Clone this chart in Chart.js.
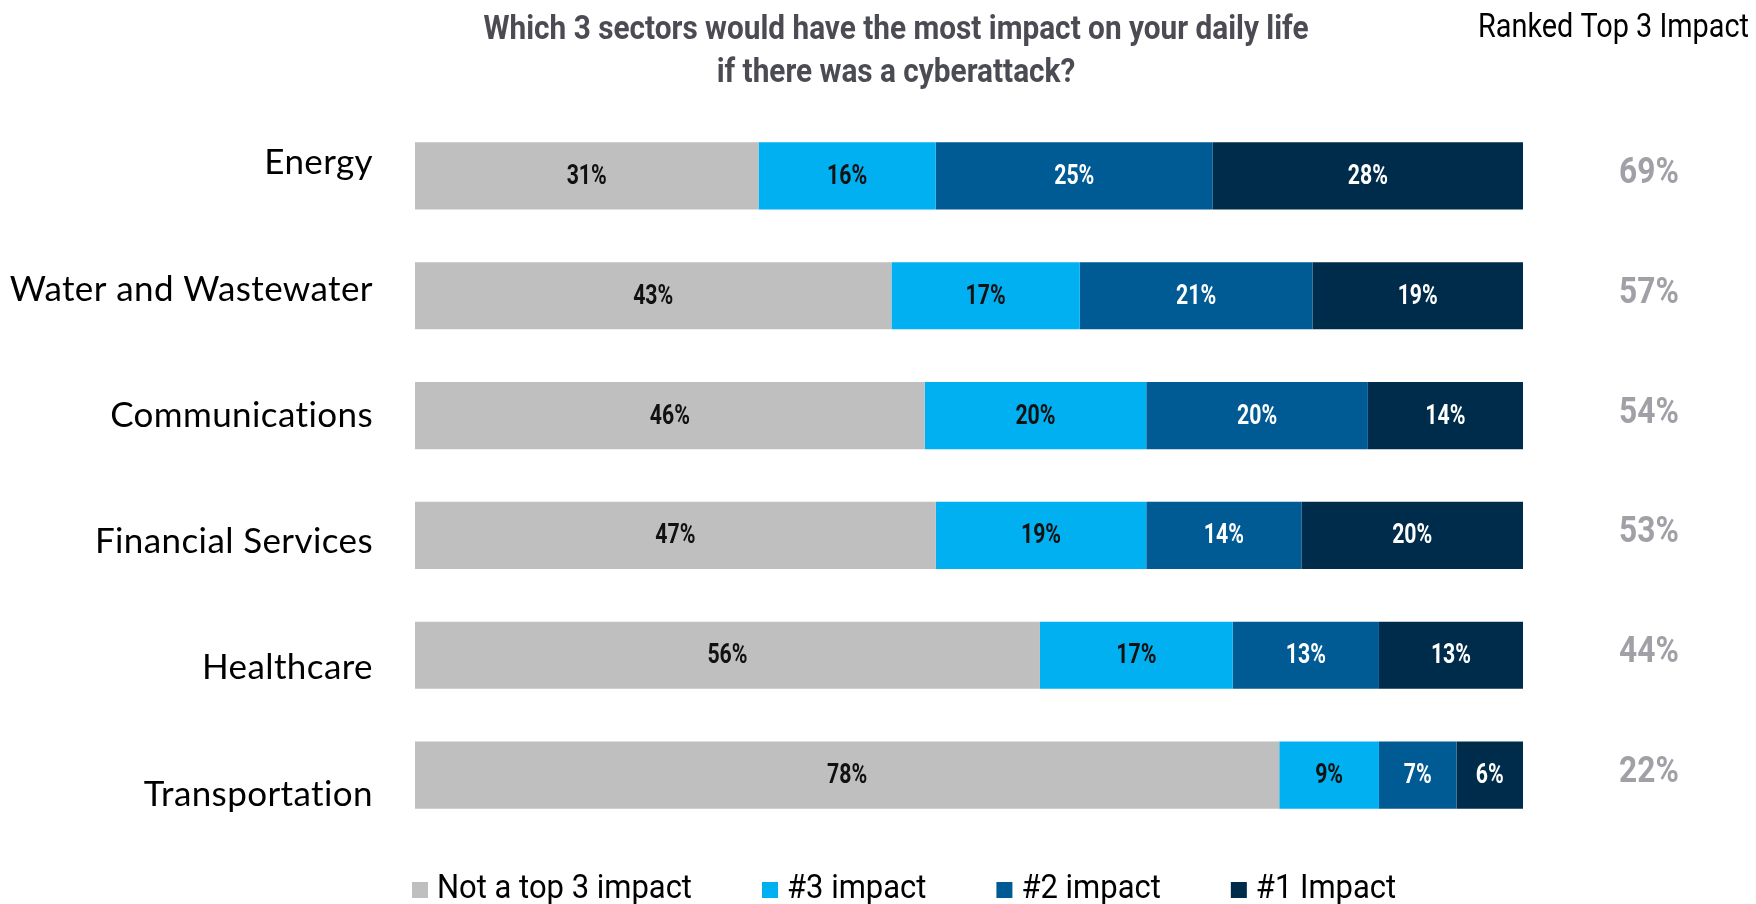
<!DOCTYPE html>
<html>
<head>
<meta charset="utf-8">
<script src="https://cdn.jsdelivr.net/npm/chart.js@4/dist/chart.umd.min.js"></script>
<style>
  html, body { margin: 0; padding: 0; background: #fff; }
  #wrap { width: 1756px; height: 904px; }
</style>
</head>
<body>
<div id="wrap"><canvas id="grafico" width="1756" height="904"></canvas></div>
<script>
// datos
const sectores = ['Energy', 'Water and Wastewater', 'Communications', 'Financial Services', 'Healthcare', 'Transportation'];
const noTop3 = [31, 43, 46, 47, 56.4, 78];
const impacto3 = [16, 17, 20, 19, 17.4, 9];
const impacto2 = [25, 21, 20, 14, 13.2, 7];
const impacto1 = [28, 19, 14, 20, 13.0, 6];
const totalTop3 = [69, 57, 54, 53, 44, 22];
const series = ['Not a top 3 impact', '#3 impact', '#2 impact', '#1 Impact'];

const colores = ['#bfbfbf', '#00b0f0', '#005a94', '#002c4b'];
const coloresTexto = ['#111', '#111', '#fff', '#fff'];

// texto "condensado": Roboto comprimido en horizontal
function textoEstrecho(ctx, texto, x, y, sx) {
  ctx.save();
  ctx.translate(x, y);
  ctx.scale(sx, 1);
  ctx.fillText(texto, 0, 0);
  ctx.restore();
}

const textosPlugin = {
  id: 'textos',
  afterDatasetsDraw(chart) {
    const ctx = chart.ctx;
    const y = chart.scales.y;
    ctx.save();
    ctx.textBaseline = 'middle';

    // valores dentro de las barras
    ctx.textAlign = 'center';
    ctx.font = 'bold 28px Roboto, sans-serif';
    chart.data.datasets.forEach((ds, d) => {
      chart.getDatasetMeta(d).data.forEach((bar, i) => {
        ctx.fillStyle = coloresTexto[d];
        textoEstrecho(ctx, Math.round(ds.data[i]) + '%', (bar.x + bar.base) / 2, bar.y + 1, 0.76);
      });
    });

    // etiquetas de categoria
    ctx.textAlign = 'right';
    ctx.fillStyle = '#000';
    ctx.font = '35px Lato, sans-serif';
    ctx.letterSpacing = '0.4px';
    sectores.forEach((s, i) => {
      ctx.fillText(s, 373, y.getPixelForValue(i) + (i - 2) * 6.4);
    });
    ctx.letterSpacing = '0px';

    // total top 3
    ctx.textAlign = 'center';
    ctx.fillStyle = '#a0a0a6';
    ctx.font = 'bold 36px Roboto, sans-serif';
    totalTop3.forEach((v, i) => {
      textoEstrecho(ctx, v + '%', 1649, y.getPixelForValue(i) - 2, 0.88);
    });

    // titulo
    ctx.fillStyle = '#4b4b53';
    ctx.font = 'bold 34px Roboto, sans-serif';
    const sxTitulo = 825 / ctx.measureText('Which 3 sectors would have the most impact on your daily life').width;
    textoEstrecho(ctx, 'Which 3 sectors would have the most impact on your daily life', 896, 30, sxTitulo);
    textoEstrecho(ctx, 'if there was a cyberattack?', 896, 73, sxTitulo);

    ctx.fillStyle = '#000';
    ctx.font = '33px Roboto, sans-serif';
    ctx.textAlign = 'right';
    const sxRank = 271 / ctx.measureText('Ranked Top 3 Impact').width;
    textoEstrecho(ctx, 'Ranked Top 3 Impact', 1749, 29, sxRank);

    // leyenda
    ctx.textAlign = 'left';
    ctx.font = '33px Roboto, sans-serif';
    const sxLeyenda = 255 / ctx.measureText(series[0]).width;
    let x = 412;
    series.forEach((s, d) => {
      ctx.fillStyle = colores[d];
      ctx.fillRect(x, 882, 16, 16);
      ctx.fillStyle = '#000';
      textoEstrecho(ctx, s, x + 25, 890, sxLeyenda);
      x += 25 + ctx.measureText(s).width * sxLeyenda + 70;
    });

    ctx.restore();
  }
};

const valores = [noTop3, impacto3, impacto2, impacto1];

new Chart(document.getElementById('grafico').getContext('2d'), {
  type: 'bar',
  data: {
    labels: sectores,
    datasets: series.map((s, d) => ({
      label: s,
      data: valores[d],
      backgroundColor: colores[d],
      borderWidth: 0,
      categoryPercentage: 1,
      barPercentage: 0.56
    }))
  },
  options: {
    indexAxis: 'y',
    responsive: false,
    animation: false,
    layout: { padding: { left: 415, right: 233, top: 116, bottom: 69 } },
    scales: {
      x: { stacked: true, min: 0, max: 100, display: false },
      y: { stacked: true, display: false }
    },
    plugins: {
      legend: { display: false },
      tooltip: { enabled: false }
    }
  },
  plugins: [textosPlugin]
});
</script>
</body>
</html>
